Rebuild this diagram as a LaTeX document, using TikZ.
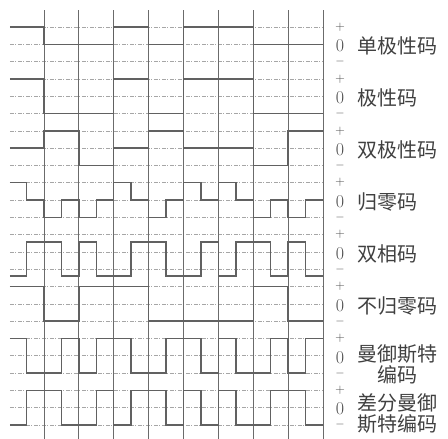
\documentclass[tikz,border=0pt]{standalone}
\usepackage{fontspec}
\newfontfamily\cjk{Noto Sans CJK SC}
\begin{document}
\begin{tikzpicture}[x=34.875pt,y=-1pt,
  wave/.style={draw=black!62, line width=1.4pt, line join=miter},
  gridv/.style={draw=black!58, line width=0.9pt},
  gridh/.style={draw=black!35, line width=0.5pt, dash pattern=on 4pt off 1.5pt on 1pt off 1.5pt},
  pm/.style={font=\fontsize{13}{13}\selectfont, inner sep=0pt, text=black!70},
  zero/.style={font=\fontsize{18}{18}\selectfont, inner sep=0pt, text=black!70},
  lab/.style={font=\cjk\fontsize{20}{21}\selectfont, inner sep=0pt, anchor=west, align=center, text=black!75}]
\useasboundingbox (0pt,0pt) rectangle (448pt,-439pt);
\begin{scope}[xshift=44pt]
% dashed level lines
\foreach \i in {0,...,23} \draw[gridh] (-0.975,{27+17.3*\i}) -- (8,{27+17.3*\i});
% vertical bit boundaries
\foreach \k in {0,...,8} \draw[gridv] (\k,10) -- (\k,439);
% level symbols
\foreach \r in {0,...,7} {
  \node[pm]   (p\r) at (8.487,{27+51.9*\r}) {+};
  \node[zero] (z\r) at (8.487,{44.3+51.9*\r+1.5}) {0};
  \node[pm]   (m\r) at (8.487,{61.6+51.9*\r}) {$-$};
}
% row 0: unipolar
\def\P{27}\def\Z{44.3}\def\M{61.6}
\draw[wave] (-0.975,\P) -- (0,\P) |- (2,\Z) |- (3,\P) |- (4,\Z) |- (6,\P) |- (8,\Z);
% row 1: polar
\def\P{78.9}\def\Z{96.2}\def\M{113.5}
\draw[wave] (-0.975,\P) -- (0,\P) |- (2,\M) |- (3,\P) |- (4,\M) |- (6,\P) |- (8,\M);
% row 2: bipolar (AMI)
\def\P{130.8}\def\Z{148.1}\def\M{165.4}
\draw[wave] (-0.975,\Z) -- (0,\Z) |- (1,\P) |- (2,\M) |- (3,\Z) |- (4,\P) |- (6,\Z) |- (7,\M) |- (8,\P);
% row 3: return to zero
\def\P{182.7}\def\Z{200}\def\M{217.3}
\draw[wave] (-0.975,\P) -- (-0.5,\P) |- (0,\Z) |- (0.5,\M) |- (1,\Z) |- (1.5,\M) |- (2,\Z) |- (2.5,\P) |- (3,\Z) |- (3.5,\M) |- (4,\Z) |- (4.5,\P) |- (5,\Z) |- (5.5,\P) |- (6,\Z) |- (6.5,\M) |- (7,\Z) |- (7.5,\M) |- (8,\Z);
% row 4: biphase
\def\T{242}\def\B{276}
\draw[wave] (-0.975,\B) -- (-0.5,\B) |- (0.5,\T) |- (1,\B) |- (1.5,\T) |- (2.5,\B) |- (3.5,\T) |- (4.5,\B) |- (5,\T) |- (5.5,\B) |- (6.5,\T) |- (7,\B) |- (7.5,\T) |- (8,\B);
% row 5: NRZ
\def\P{286.5}\def\Z{303.8}\def\M{321.1}
\draw[wave] (-0.975,\P) -- (0,\P) |- (1,\M) |- (3,\P) |- (6,\M) |- (7,\P) |- (8,\M);
% row 6: Manchester
\def\T{338.4}\def\B{373}
\draw[wave] (-0.975,\T) -- (-0.5,\T) |- (0.5,\B) |- (1,\T) |- (1.5,\B) |- (2.5,\T) |- (3.5,\B) |- (4.5,\T) |- (5,\B) |- (5.5,\T) |- (6.5,\B) |- (7,\T) |- (7.5,\B) |- (8,\T);
% row 7: differential Manchester
\def\T{390.3}\def\B{424.9}
\draw[wave] (-0.975,\B) -- (-0.5,\B) |- (0.5,\T) |- (1.5,\B) |- (2,\T) |- (2.5,\B) |- (3.5,\T) |- (4,\B) |- (4.5,\T) |- (5,\B) |- (5.5,\T) |- (6.5,\B) |- (7.5,\T) |- (8,\B);
% labels
\node[lab] (l0) at (8.975,46) {单极性码};
\node[lab] (l1) at (8.975,97.9) {极性码};
\node[lab] (l2) at (8.975,149.8) {双极性码};
\node[lab] (l3) at (8.975,201.7) {归零码};
\node[lab] (l4) at (8.975,253.6) {双相码};
\node[lab] (l5) at (8.975,305.5) {不归零码};
\node[lab] (l6) at (8.975,364) {曼御斯特\\编码};
\node[lab] (l7) at (8.975,414) {差分曼御\\斯特编码};
\end{scope}
\end{tikzpicture}
\end{document}
